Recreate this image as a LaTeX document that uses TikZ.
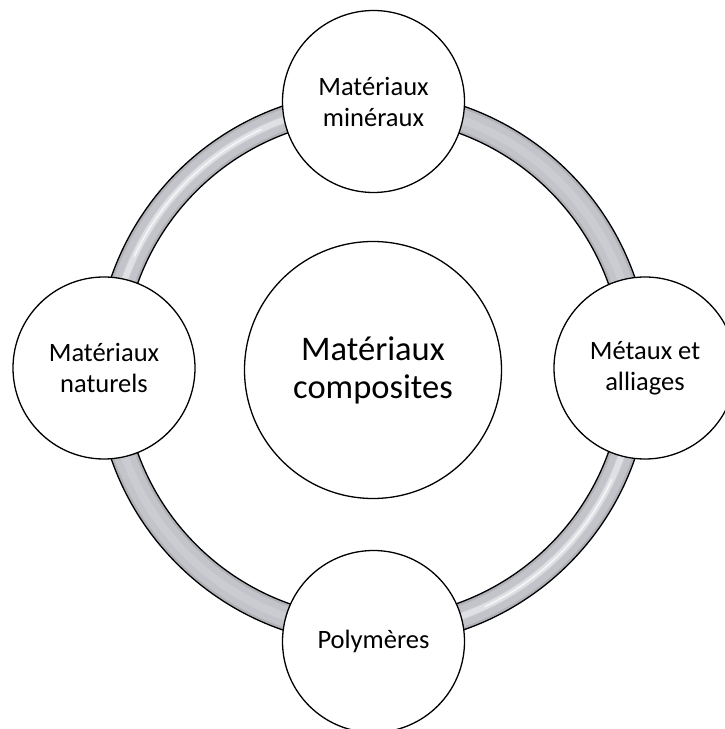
\documentclass[tikz,border=0pt]{standalone}
\usepackage{fontspec}
\setmainfont{Carlito}
\usetikzlibrary{calc}
\definecolor{ringedge}{RGB}{176,178,184}
\definecolor{ringbody}{RGB}{194,196,201}
\definecolor{ringlight}{RGB}{228,229,232}
\tikzset{
  bubble/.style={circle, draw=black, line width=1.3pt, fill=white,
    minimum size=182pt, inner sep=0pt, align=center,
    font=\fontsize{26.5}{31}\selectfont},
  hub/.style={bubble, minimum size=257pt, font=\fontsize{34.5}{38}\selectfont},
  ringline/.style={draw=black, line width=1.3pt}
}
\begin{document}
\begin{tikzpicture}[x=1pt,y=1pt]
  \useasboundingbox (0,0) rectangle (724,729);
  \coordinate (c) at (373,361);
  % grey ring behind the circles
  \fill[ringedge, even odd rule] (c) circle (277) (c) circle (250);
  \draw[ringbody, line width=21pt] (c) circle (263.5);
  \draw[ringbody!75!ringlight, line width=8pt] (c) circle (263.5);
  % light reflections on two quarters
  \foreach \a/\b in {100/170, 280/350} {
    \draw[ringlight, line width=6pt, opacity=0.8]
      ($(c)+(\a:263.5)$) arc[start angle=\a, end angle=\b, radius=263.5];
    \draw[white, line width=1.5pt, opacity=0.7]
      ($(c)+(\a+15:263.5)$) arc[start angle=\a+15, end angle=\b-15, radius=263.5];
  }
  \draw[ringline] (c) circle (277);
  \draw[ringline] (c) circle (250);
  % the five circles
  \node[hub] (hub) at (373,359) {Matériaux\\composites};
  \node[bubble] (top) at (373.5,627.5) {Matériaux\\minéraux};
  \node[bubble] (left) at (104,361) {Matériaux\\naturels};
  \node[bubble] (right) at (645,361) {Métaux et\\alliages};
  \node[bubble] (bottom) at (373.5,87.5) {Polymères};
\end{tikzpicture}
\end{document}
